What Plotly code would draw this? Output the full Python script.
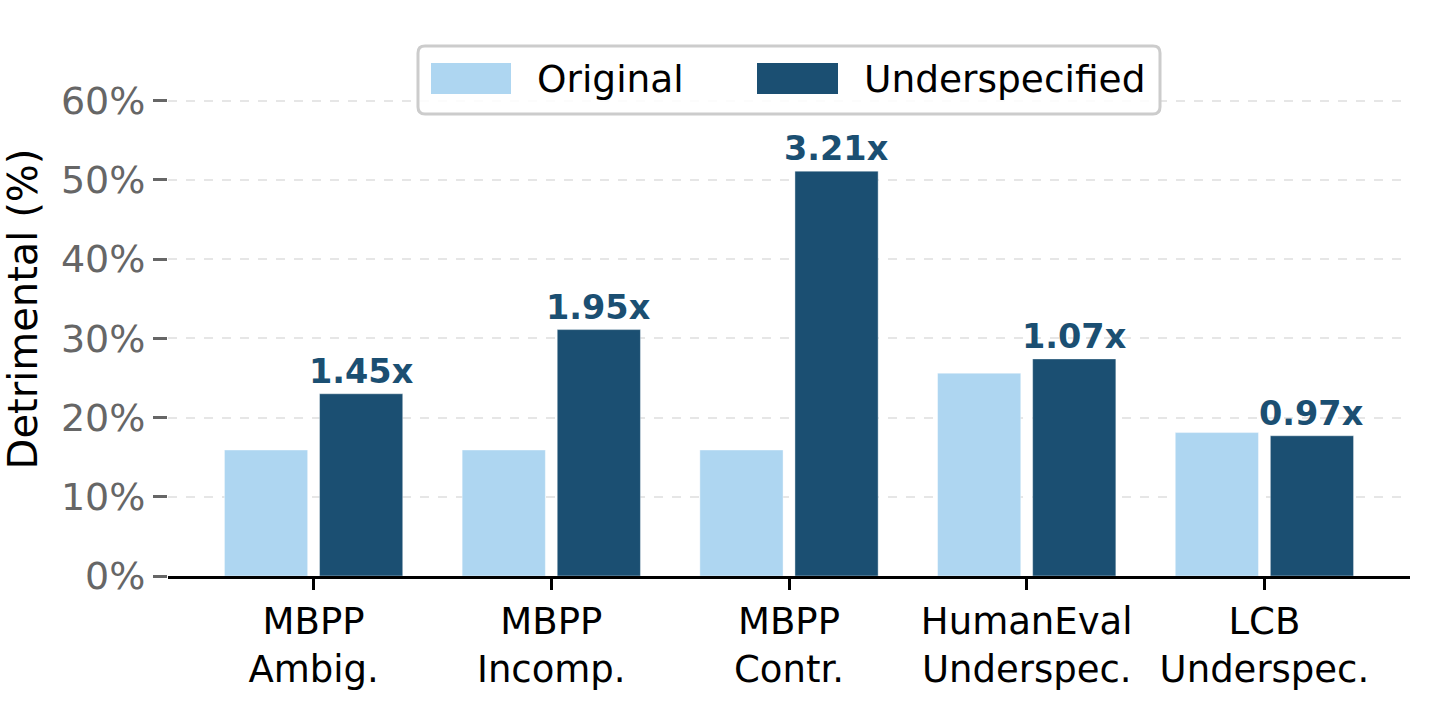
import plotly.graph_objects as go

categories = ["MBPP<br>Ambig.", "MBPP<br>Incomp.", "MBPP<br>Contr.", "HumanEval<br>Underspec.", "LCB<br>Underspec."]
original = [15.9, 15.9, 15.9, 25.6, 18.1]
underspecified = [23.0, 31.1, 51.1, 27.4, 17.7]
ratio_labels = ["1.45x", "1.95x", "3.21x", "1.07x", "0.97x"]
y_ticks = [0, 10, 20, 30, 40, 50, 60]

C_ORIG = "#AED6F1"
C_UNDER = "#1B4F72"
FONT = "DejaVu Sans"

idx = list(range(len(categories)))
fig = go.Figure()
fig.add_trace(go.Bar(x=[i - 0.2 for i in idx], y=original, width=0.35, name="Original",
                     marker=dict(color=C_ORIG, line=dict(color="rgba(255,255,255,0.4)", width=1)),
                     showlegend=False))
fig.add_trace(go.Bar(x=[i + 0.2 for i in idx], y=underspecified, width=0.35, name="Underspecified",
                     marker=dict(color=C_UNDER, line=dict(color="rgba(255,255,255,0.4)", width=1)),
                     showlegend=False))

for i, (v, t) in enumerate(zip(underspecified, ratio_labels)):
    fig.add_annotation(x=i + 0.2, y=v, text="<b>%s</b>" % t, showarrow=False,
                       yanchor="bottom", yshift=1,
                       font=dict(family=FONT, size=33.5, color=C_UNDER))

# plot area in pixels
L, R, T, B = 168, 1410, 42, 576
W, H = R - L, B - T
def px(xp):
    return (xp - L) / W
def py(yp):
    return (B - yp) / H

def rounded_rect(x0, y0, x1, y1, r):
    X = lambda v: px(v)
    Y = lambda v: py(v)
    return ("M %f,%f L %f,%f Q %f,%f %f,%f L %f,%f Q %f,%f %f,%f L %f,%f Q %f,%f %f,%f L %f,%f Q %f,%f %f,%f Z" % (
        X(x0 + r), Y(y0), X(x1 - r), Y(y0), X(x1), Y(y0), X(x1), Y(y0 + r),
        X(x1), Y(y1 - r), X(x1), Y(y1), X(x1 - r), Y(y1),
        X(x0 + r), Y(y1), X(x0), Y(y1), X(x0), Y(y1 - r),
        X(x0), Y(y0 + r), X(x0), Y(y0), X(x0 + r), Y(y0)))

shapes = []
shapes.append(dict(type="path", xref="paper", yref="paper",
                   path=rounded_rect(418, 46, 1160, 114, 7),
                   line=dict(color="#cccccc", width=3), fillcolor="rgba(255,255,255,0.85)", layer="above"))
shapes.append(dict(type="rect", xref="paper", yref="paper",
                   x0=px(431), x1=px(511), y0=py(94), y1=py(63),
                   line=dict(width=0), fillcolor=C_ORIG, layer="above"))
shapes.append(dict(type="rect", xref="paper", yref="paper",
                   x0=px(757), x1=px(838), y0=py(94), y1=py(63),
                   line=dict(width=0), fillcolor=C_UNDER, layer="above"))
fig.add_annotation(xref="paper", yref="paper", x=px(535), y=py(79), text="Original",
                   showarrow=False, xanchor="left", yanchor="middle",
                   font=dict(family=FONT, size=37.5, color="black"))
fig.add_annotation(xref="paper", yref="paper", x=px(862), y=py(79), text="Underspecified",
                   showarrow=False, xanchor="left", yanchor="middle",
                   font=dict(family=FONT, size=37.5, color="black"))

fig.update_layout(
    width=1438, height=714,
    margin=dict(l=L, r=1438 - R, t=T, b=714 - B),
    paper_bgcolor="white", plot_bgcolor="white",
    barmode="overlay",
    shapes=shapes,
    font=dict(family=FONT),
    xaxis=dict(range=[-0.6125, 4.6125], tickmode="array", tickvals=idx, ticktext=categories,
               showline=True, linecolor="black", linewidth=2.5,
               ticks="outside", ticklen=11, tickwidth=2.5, tickcolor="black",
               showgrid=False, zeroline=False,
               tickfont=dict(family=FONT, size=37, color="black")),
    yaxis=dict(range=[0, 67.4], tickmode="array", tickvals=y_ticks,
               ticktext=["%d%%" % v for v in y_ticks],
               showline=False, zeroline=False,
               showgrid=True, gridcolor="#e6e6e6", griddash="dash", gridwidth=2,
               ticks="outside", ticklen=14, tickwidth=2.5, tickcolor="#666666",
               tickfont=dict(family=FONT, size=38, color="#666666"),
               title=dict(text="Detrimental (%)", standoff=12,
                          font=dict(family=FONT, size=40, color="black"))),
)

fig.write_html("out.html")
